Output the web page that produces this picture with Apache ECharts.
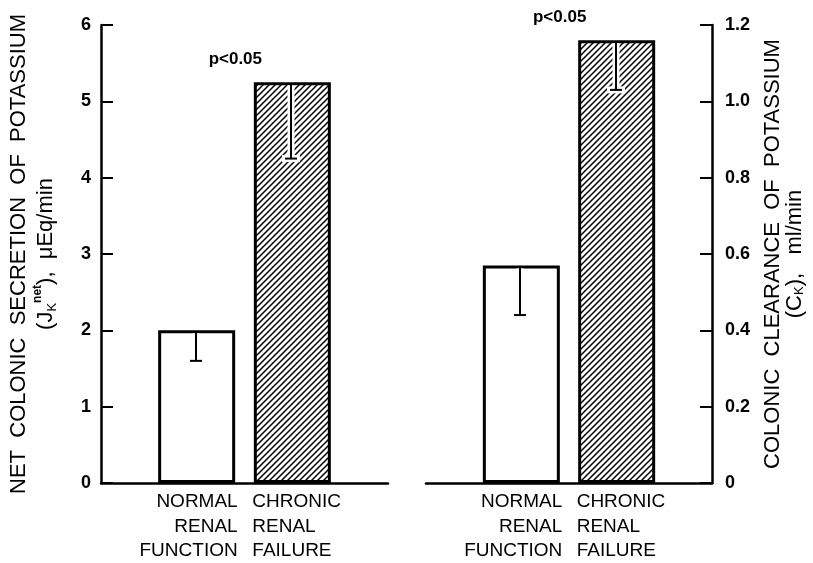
<!DOCTYPE html>
<html>
<head>
<meta charset="utf-8">
<script src="https://cdn.jsdelivr.net/npm/echarts@6/dist/echarts.min.js"></script>
<style>
  html, body { margin: 0; background: #fff; }
  #chart { width: 813px; height: 563px; }
</style>
</head>
<body>
<div id="chart"></div>
<script>
const groups = ['NORMAL\nRENAL\nFUNCTION', 'CHRONIC\nRENAL\nFAILURE'];
// left panel: net colonic secretion of K (uEq/min), mean and lower end of the error bar
const secretionMean = [2.0, 5.25];
const secretionLow = [1.6, 4.25];
// right panel: colonic clearance of K (ml/min)
const clearanceMean = [0.57, 1.16];
const clearanceLow = [0.44, 1.03];
const pLabels = ['', 'p<0.05'];
const secretionTicks = [0, 1, 2, 3, 4, 5, 6];
const clearanceTicks = [0, 0.2, 0.4, 0.6, 0.8, 1.0, 1.2];

const FONT = '"Liberation Sans", Arial, Helvetica, sans-serif';
// empty slots either side so the bars sit where the original ones do
const slots = ['', ...groups, ''];

function hatchCanvas() {
  const s = 6;
  const c = document.createElement('canvas');
  c.width = c.height = s;
  const g = c.getContext('2d');
  g.fillStyle = '#fff';
  g.fillRect(0, 0, s, s);
  g.strokeStyle = '#000';
  g.lineWidth = 1.5;
  g.beginPath();
  g.moveTo(-1, s + 1); g.lineTo(s + 1, -1);
  g.moveTo(-1, 1); g.lineTo(1, -1);
  g.moveTo(s - 1, s + 1); g.lineTo(s + 1, s - 1);
  g.stroke();
  return c;
}
const hatch = hatchCanvas();

function catLabel(value, index) {
  if (!value) return '';
  const tag = index === 1 ? 'n' : 'c';
  return value.split('\n').map(l => '{' + tag + '|' + l + '}').join('\n');
}
const catRich = {
  n: { width: 82, align: 'right', fontSize: 19, lineHeight: 24.5, fontFamily: FONT, color: '#000' },
  c: { width: 80, align: 'left', fontSize: 19, lineHeight: 24.5, fontFamily: FONT, color: '#000' }
};

function xAxis(gridIndex) {
  return {
    type: 'category',
    gridIndex: gridIndex,
    data: slots,
    boundaryGap: false,
    axisLine: { lineStyle: { color: '#000', width: 2.5 } },
    axisTick: { show: false },
    axisLabel: { interval: 0, margin: 7, formatter: catLabel, rich: catRich }
  };
}

function yAxis(gridIndex, position, ticks, name, gap, lineHeight, margin, fmt) {
  return {
    type: 'value',
    gridIndex: gridIndex,
    position: position,
    min: ticks[0],
    max: ticks[ticks.length - 1],
    interval: ticks[1] - ticks[0],
    axisLine: { show: true, lineStyle: { color: '#000', width: 2.5 } },
    axisTick: { show: true, inside: true, length: 12, lineStyle: { color: '#000', width: 2 } },
    axisLabel: { margin: margin, fontSize: 18, fontWeight: 'bold', color: '#000', fontFamily: FONT, formatter: fmt },
    splitLine: { show: false },
    name: name,
    nameLocation: 'middle',
    nameRotate: 90,
    nameGap: gap,
    nameTextStyle: {
      fontSize: 22, fontFamily: FONT, color: '#000', lineHeight: lineHeight,
      rich: {
        sub: { fontSize: 13, fontFamily: FONT, color: '#000', verticalAlign: 'bottom' },
        sup: { fontSize: 12, fontFamily: FONT, color: '#000', fontWeight: 'bold', verticalAlign: 'top' }
      }
    }
  };
}

function errorBar(params, api) {
  const top = api.coord([api.value(0), api.value(1)]);
  const bot = api.coord([api.value(0), api.value(2)]);
  const x = Math.round(top[0]) - 1;
  const cap = 6;
  const halo = { stroke: '#fff', lineWidth: 7 };
  const ink = { stroke: '#000', lineWidth: 2 };
  return {
    type: 'group',
    children: [
      { type: 'line', shape: { x1: x, y1: top[1] + 3, x2: x, y2: bot[1] + 3 }, style: halo },
      { type: 'line', shape: { x1: x - cap - 3, y1: bot[1], x2: x + cap + 3, y2: bot[1] }, style: halo },
      { type: 'line', shape: { x1: x, y1: top[1] + 1, x2: x, y2: bot[1] }, style: ink },
      { type: 'line', shape: { x1: x - cap, y1: bot[1], x2: x + cap, y2: bot[1] }, style: ink }
    ]
  };
}

function barSeries(axis, means) {
  return {
    type: 'bar',
    xAxisIndex: axis,
    yAxisIndex: axis,
    barWidth: 77,
    data: means.map((v, i) => ({
      value: [i + 1, v],
      itemStyle: {
        color: i === 1 ? { image: hatch, repeat: 'repeat' } : '#fff',
        borderColor: '#000',
        borderWidth: 3
      }
    })),
    label: {
      show: true,
      position: 'top',
      offset: [-57, -9],
      formatter: p => pLabels[p.dataIndex],
      fontSize: 17,
      fontWeight: 'bold',
      fontFamily: FONT,
      color: '#000'
    },
    silent: true,
    animation: false
  };
}

function errorSeries(axis, means, lows) {
  return {
    type: 'custom',
    xAxisIndex: axis,
    yAxisIndex: axis,
    z: 3,
    renderItem: errorBar,
    data: means.map((v, i) => [i + 1, v, lows[i]]),
    silent: true,
    animation: false
  };
}

const chart = echarts.init(document.getElementById('chart'), null, { renderer: 'canvas' });

chart.setOption({
  backgroundColor: '#fff',
  animation: false,
  grid: [
    { left: 101, right: 425, top: 25, bottom: 80 },
    { left: 426, right: 101, top: 25, bottom: 80 }
  ],
  xAxis: [xAxis(0), xAxis(1)],
  yAxis: [
    yAxis(0, 'left', secretionTicks,
      'NET  COLONIC  SECRETION  OF  POTASSIUM\n(J{sub|K}{sup|net}),  \u03bcEq/min', 42, 27, 10,
      v => String(v)),
    yAxis(1, 'right', clearanceTicks,
      'COLONIC  CLEARANCE  OF  POTASSIUM\n(C{sub|K}),   ml/min', 50, 22, 13,
      v => (v === 0 ? '0' : v.toFixed(1)))
  ],
  series: [
    barSeries(0, secretionMean),
    errorSeries(0, secretionMean, secretionLow),
    barSeries(1, clearanceMean),
    errorSeries(1, clearanceMean, clearanceLow)
  ]
});
</script>
</body>
</html>
